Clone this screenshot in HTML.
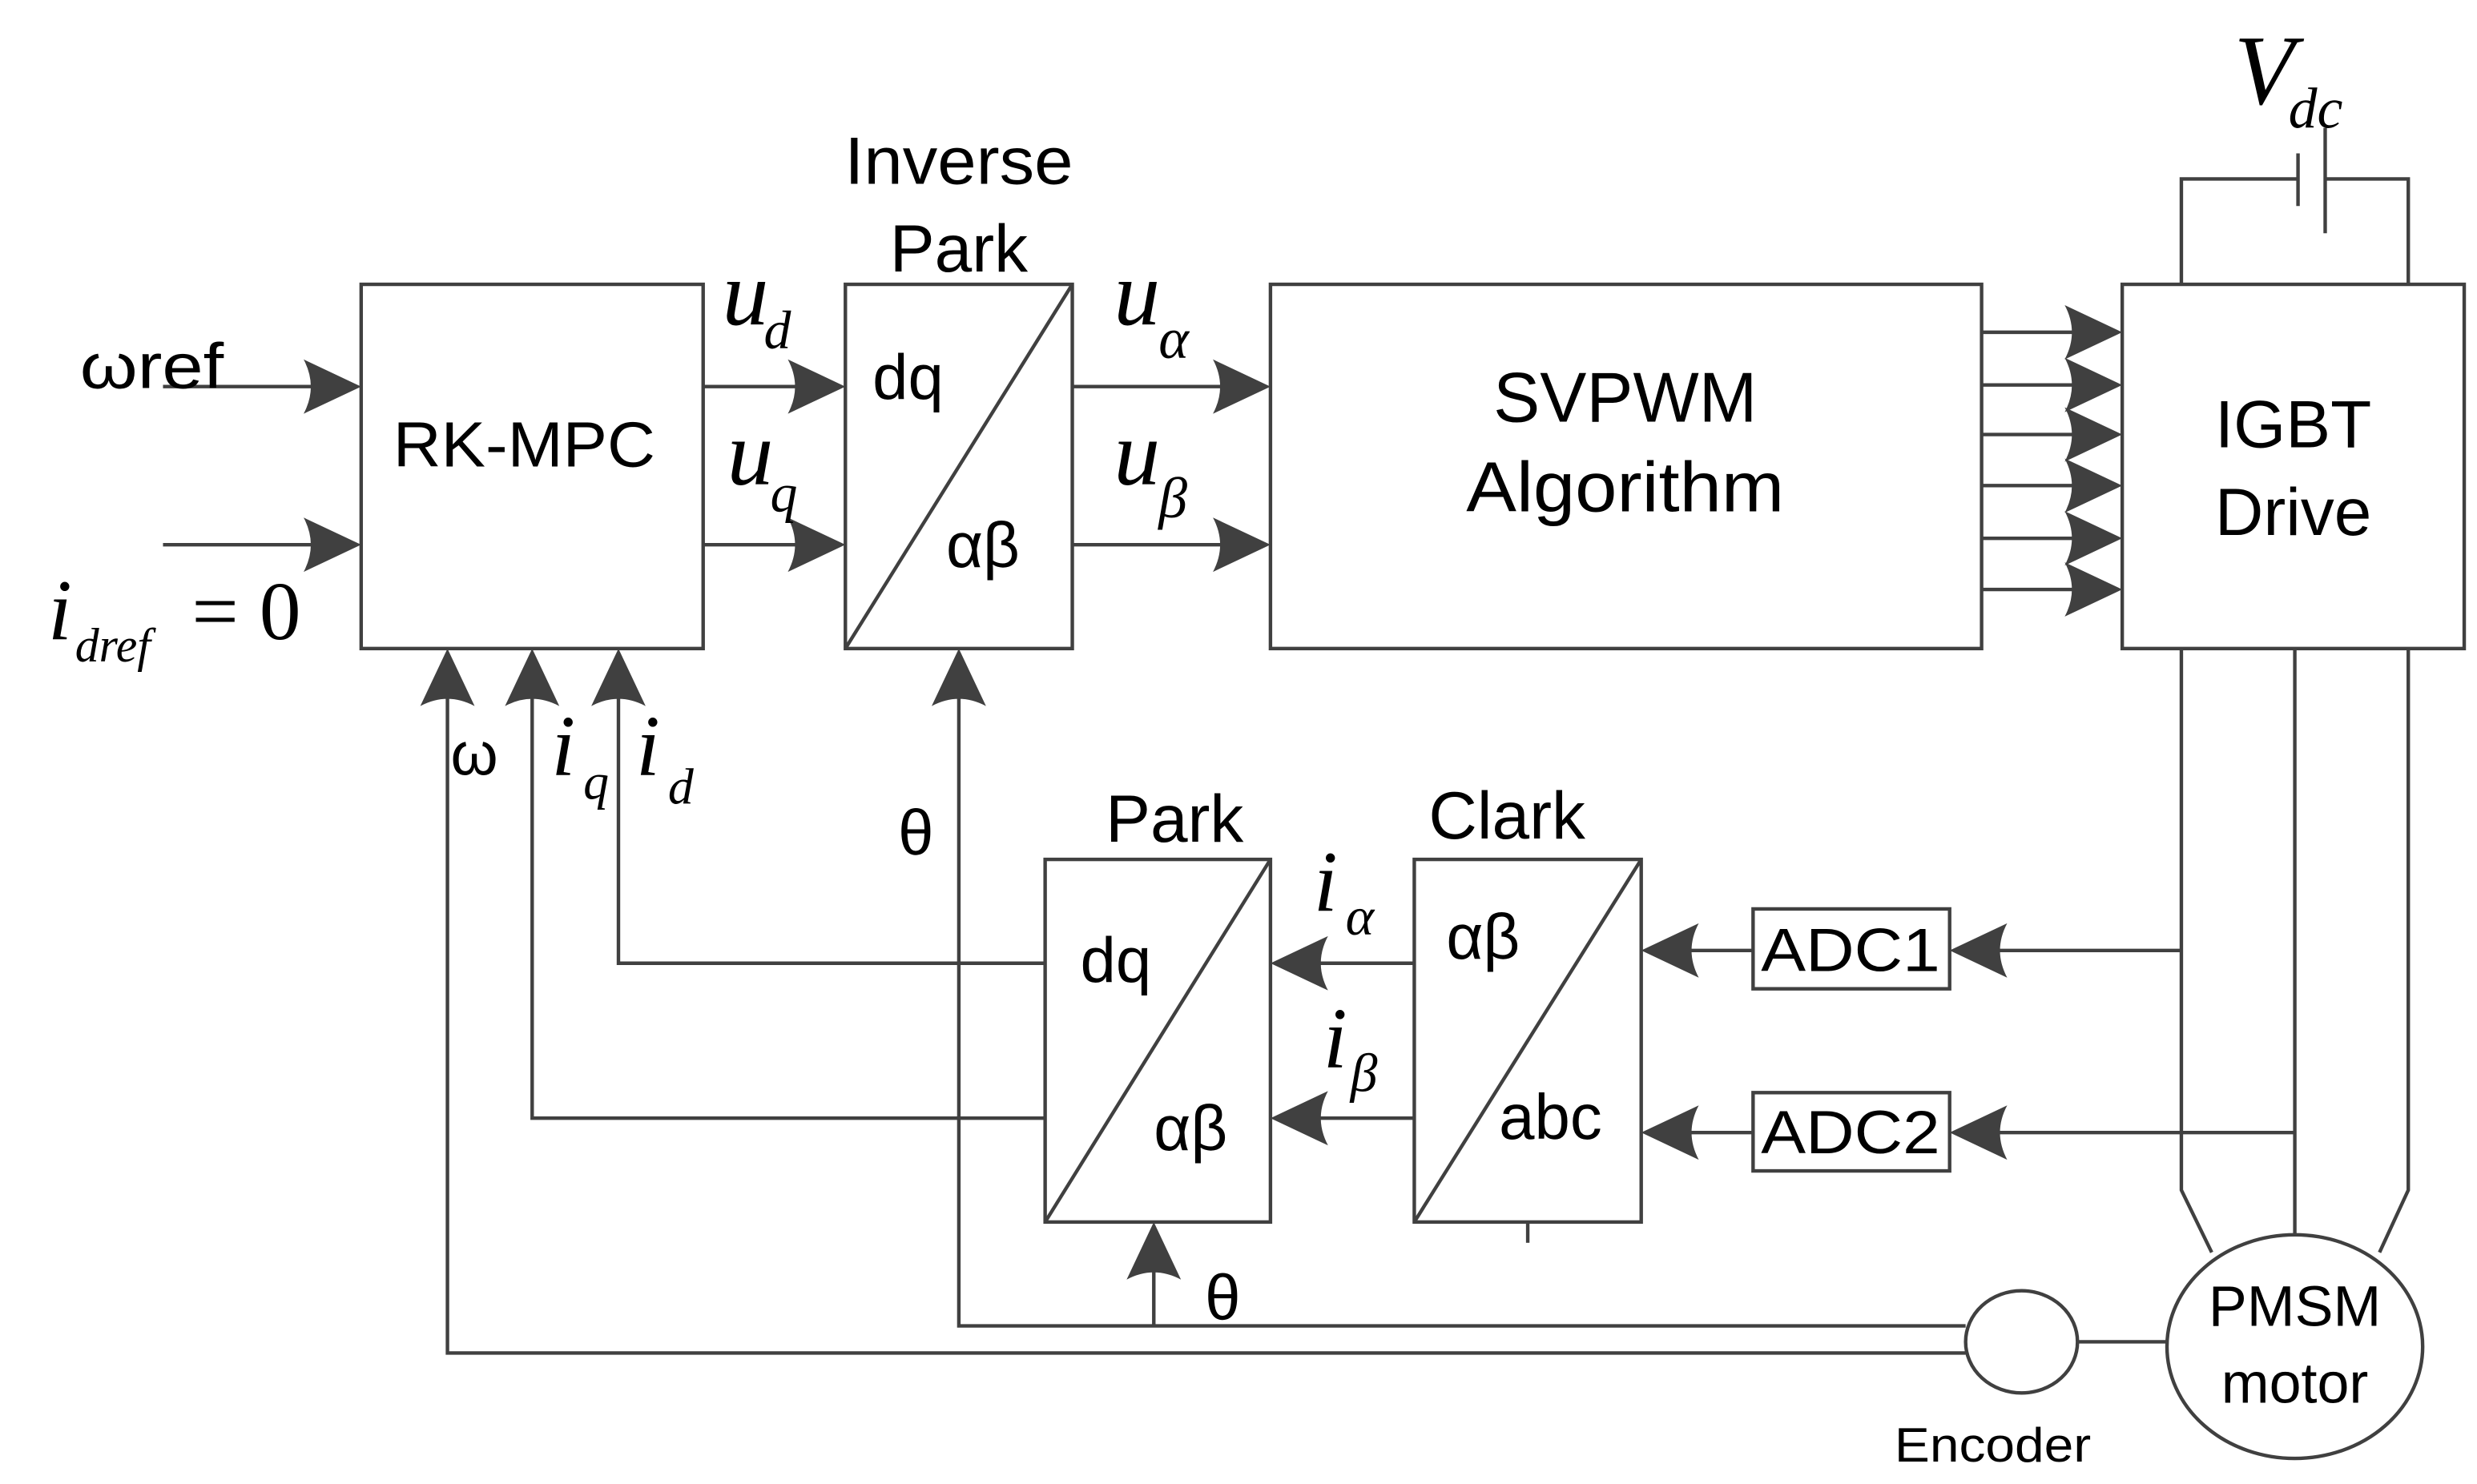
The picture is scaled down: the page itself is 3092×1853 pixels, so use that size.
<!DOCTYPE html>
<html><head><meta charset="utf-8"><style>
html,body{margin:0;padding:0;background:#fff;}
svg{display:block;}
.s{font-family:"Liberation Sans",sans-serif;fill:#000;}
.m{font-family:"Liberation Serif",serif;font-style:italic;fill:#000;}
</style></head><body>
<svg width="3092" height="1853" viewBox="0 0 1550 929" preserveAspectRatio="none" xmlns="http://www.w3.org/2000/svg">
<defs>
<path id="ar" d="M0,0 L-36,-17 Q-27,0 -36,17 Z" fill="#404040"/>
</defs>
<g stroke="#404040" stroke-width="2.2" fill="none">
<rect x="226" y="178" width="214" height="228"/>
<rect x="529" y="178" width="142" height="228"/>
<line x1="529" y1="406" x2="671" y2="178"/>
<rect x="795" y="178" width="445" height="228"/>
<rect x="1328" y="178" width="214" height="228"/>
<rect x="654" y="538" width="141" height="227"/>
<line x1="654" y1="765" x2="795" y2="538"/>
<rect x="885" y="538" width="142" height="227"/>
<line x1="885" y1="765" x2="1027" y2="538"/>
<line x1="956" y1="765" x2="956" y2="778"/>
<rect x="1097" y="569" width="123" height="50"/>
<rect x="1097" y="684" width="123" height="49"/>
<line x1="102" y1="242" x2="200" y2="242"/>
<line x1="102" y1="341" x2="200" y2="341"/>
<line x1="440" y1="242" x2="505" y2="242"/>
<line x1="440" y1="341" x2="505" y2="341"/>
<line x1="671" y1="242" x2="770" y2="242"/>
<line x1="671" y1="341" x2="770" y2="341"/>
<line x1="1240" y1="208" x2="1305" y2="208"/>
<line x1="1240" y1="241" x2="1305" y2="241"/>
<line x1="1240" y1="272" x2="1305" y2="272"/>
<line x1="1240" y1="304" x2="1305" y2="304"/>
<line x1="1240" y1="337" x2="1305" y2="337"/>
<line x1="1240" y1="369" x2="1305" y2="369"/>
<polyline points="1365,178 1365,112 1438,112"/>
<polyline points="1507,178 1507,112 1455,112"/>
<line x1="1438" y1="96" x2="1438" y2="129"/>
<line x1="1455" y1="80" x2="1455" y2="146"/>
<polyline points="1365,406 1365,745 1384,784"/>
<polyline points="1507,406 1507,745 1489,784"/>
<line x1="1436" y1="406" x2="1436" y2="773"/>
<ellipse cx="1436" cy="843" rx="80" ry="70" fill="#fff"/>
<ellipse cx="1265" cy="840" rx="35" ry="32"/>
<line x1="1300" y1="840" x2="1356" y2="840"/>
<polyline points="1230,830 600,830 600,430"/>
<polyline points="1230,847 280,847 280,430"/>
<line x1="722" y1="830" x2="722" y2="790"/>
<polyline points="654,603 387,603 387,430"/>
<polyline points="654,700 333,700 333,430"/>
<line x1="885" y1="603" x2="820" y2="603"/>
<line x1="885" y1="700" x2="820" y2="700"/>
<line x1="1097" y1="595" x2="1050" y2="595"/>
<line x1="1097" y1="709" x2="1050" y2="709"/>
<line x1="1365" y1="595" x2="1245" y2="595"/>
<line x1="1436" y1="709" x2="1245" y2="709"/>
</g>
<use href="#ar" transform="translate(226,242)"/>
<use href="#ar" transform="translate(226,341)"/>
<use href="#ar" transform="translate(529,242)"/>
<use href="#ar" transform="translate(529,341)"/>
<use href="#ar" transform="translate(795,242)"/>
<use href="#ar" transform="translate(795,341)"/>
<use href="#ar" transform="translate(1328,208)"/>
<use href="#ar" transform="translate(1328,241)"/>
<use href="#ar" transform="translate(1328,272)"/>
<use href="#ar" transform="translate(1328,304)"/>
<use href="#ar" transform="translate(1328,337)"/>
<use href="#ar" transform="translate(1328,369)"/>
<use href="#ar" transform="translate(280,406) rotate(-90)"/>
<use href="#ar" transform="translate(333,406) rotate(-90)"/>
<use href="#ar" transform="translate(387,406) rotate(-90)"/>
<use href="#ar" transform="translate(600,406) rotate(-90)"/>
<use href="#ar" transform="translate(722,765) rotate(-90)"/>
<use href="#ar" transform="translate(795,603) rotate(180)"/>
<use href="#ar" transform="translate(795,700) rotate(180)"/>
<use href="#ar" transform="translate(1027,595) rotate(180)"/>
<use href="#ar" transform="translate(1027,709) rotate(180)"/>
<use href="#ar" transform="translate(1220,595) rotate(180)"/>
<use href="#ar" transform="translate(1220,709) rotate(180)"/>
<text class="s" x="50" y="243" font-size="40" textLength="90" lengthAdjust="spacingAndGlyphs">ωref</text>
<text class="m" x="30" y="400" font-size="54">i</text>
<text class="m" x="47" y="414" font-size="30">dref</text>
<text x="120" y="400" font-size="52" font-family="Liberation Serif,serif">= 0</text>
<text class="s" x="328" y="292" font-size="40" textLength="164" lengthAdjust="spacingAndGlyphs" text-anchor="middle">RK-MPC</text>
<text class="s" x="600" y="115" font-size="42" text-anchor="middle" textLength="143" lengthAdjust="spacingAndGlyphs">Inverse</text>
<text class="s" x="600" y="170" font-size="42" text-anchor="middle">Park</text>
<text class="s" x="546" y="250" font-size="40">dq</text>
<text class="s" x="592" y="355" font-size="40">αβ</text>
<text class="m" x="452" y="203" font-size="58">u</text><text class="m" x="478" y="218" font-size="34">d</text>
<text class="m" x="455" y="303" font-size="58">u</text><text class="m" x="482" y="320" font-size="34">q</text>
<text class="m" x="697" y="203" font-size="58">u</text><text class="m" x="725" y="224" font-size="36">α</text>
<text class="m" x="697" y="303" font-size="58">u</text><text class="m" x="725" y="324" font-size="36">β</text>
<text class="s" x="1017" y="264" font-size="44" text-anchor="middle" textLength="165" lengthAdjust="spacingAndGlyphs">SVPWM</text>
<text class="s" x="1017" y="320" font-size="44" text-anchor="middle" textLength="199" lengthAdjust="spacingAndGlyphs">Algorithm</text>
<text class="s" x="1435" y="280" font-size="42" text-anchor="middle">IGBT</text>
<text class="s" x="1435" y="335" font-size="42" text-anchor="middle">Drive</text>
<text class="m" x="1398" y="65" font-size="62">V</text><text class="m" x="1432" y="80" font-size="36">dc</text>
<text class="s" x="282" y="485" font-size="38">ω</text>
<text class="m" x="345" y="485" font-size="54">i</text><text class="m" x="365" y="500" font-size="32">q</text>
<text class="m" x="398" y="485" font-size="54">i</text><text class="m" x="418" y="503" font-size="32">d</text>
<text class="s" x="562" y="535" font-size="40">θ</text>
<text class="s" x="735" y="527" font-size="42" text-anchor="middle">Park</text>
<text class="s" x="676" y="615" font-size="40">dq</text>
<text class="s" x="722" y="720" font-size="40">αβ</text>
<text class="s" x="943" y="525" font-size="42" text-anchor="middle">Clark</text>
<text class="s" x="905" y="600" font-size="40">αβ</text>
<text class="s" x="938" y="713" font-size="40">abc</text>
<text class="m" x="822" y="570" font-size="54">i</text><text class="m" x="842" y="585" font-size="34">α</text>
<text class="m" x="828" y="668" font-size="54">i</text><text class="m" x="845" y="683" font-size="34">β</text>
<text class="s" x="1158" y="608" font-size="38" text-anchor="middle" textLength="112" lengthAdjust="spacingAndGlyphs">ADC1</text>
<text class="s" x="1158" y="722" font-size="38" text-anchor="middle" textLength="112" lengthAdjust="spacingAndGlyphs">ADC2</text>
<text class="s" x="754" y="826" font-size="40">θ</text>
<text class="s" x="1436" y="830" font-size="36" text-anchor="middle">PMSM</text>
<text class="s" x="1436" y="878" font-size="36" text-anchor="middle">motor</text>
<text class="s" x="1247" y="915" font-size="30" text-anchor="middle" textLength="123" lengthAdjust="spacingAndGlyphs">Encoder</text>
</svg>
</body></html>
